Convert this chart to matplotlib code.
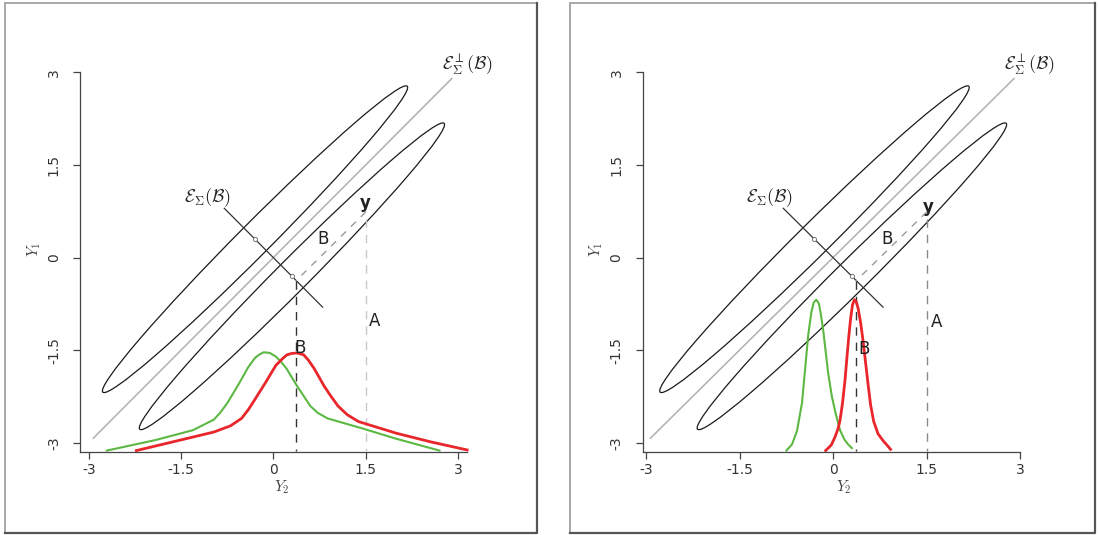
import numpy as np
import matplotlib
matplotlib.use("Agg")
import matplotlib.pyplot as plt
from matplotlib.patches import Ellipse, Rectangle
from matplotlib.lines import Line2D

plt.rcParams['mathtext.fontset'] = 'cm'

# ---- data ----
ticks = [-3, -1.5, 0, 1.5, 3]
tick_labels = ['-3', '-1.5', '0', '1.5', '3']

# ellipses (same in both panels): centre x, centre y, major length, minor length, angle
ell_cx = [-0.30, 0.30]
ell_cy = [0.30, -0.30]
ell_major = [7.0, 7.0]
ell_minor = [0.52, 0.52]
ell_angle = [45, 45]

# orthogonal complement line (gray) and envelope line (black)
perp_x = [-2.93, 2.90]
perp_y = [-2.92, 2.90]
env_x = [-0.80, 0.80]
env_y = [0.80, -0.80]

# observation y, its projection, and the two dashed drops
obs_x, obs_y = 1.5, 0.74
proj_x, proj_y = 0.36, -0.38
drop_bottom = -3.13
a_top = 0.62

# left panel densities (standard analysis)
green_l_x = [-2.71, -1.92, -1.31, -0.97, -0.86, -0.75, -0.58, -0.41, -0.30, -0.22,
             -0.16, -0.06, 0.04, 0.12, 0.21, 0.38, 0.60, 0.72, 0.88, 1.44, 2.00, 2.70]
green_l_y = [-3.12, -2.95, -2.79, -2.62, -2.50, -2.35, -2.07, -1.77, -1.62, -1.56,
             -1.53, -1.54, -1.60, -1.68, -1.79, -2.07, -2.40, -2.51, -2.60, -2.76,
             -2.93, -3.12]
red_l_x = [-2.23, -1.64, -0.97, -0.70, -0.52, -0.41, -0.30, -0.13, 0.04, 0.15,
           0.22, 0.29, 0.38, 0.49, 0.57, 0.66, 0.82, 0.92, 1.05, 1.20, 1.38, 2.00,
           2.56, 3.15]
red_l_y = [-3.12, -2.98, -2.82, -2.72, -2.60, -2.46, -2.29, -2.02, -1.74, -1.63,
           -1.57, -1.55, -1.54, -1.57, -1.66, -1.79, -2.07, -2.22, -2.40, -2.54,
           -2.65, -2.84, -2.98, -3.11]

# right panel densities (envelope analysis)
green_r_x = [-0.75, -0.66, -0.58, -0.50, -0.45, -0.40, -0.35, -0.31, -0.27, -0.23,
             -0.20, -0.16, -0.12, -0.08, -0.02, 0.04, 0.11, 0.18, 0.24, 0.30]
green_r_y = [-3.12, -3.02, -2.80, -2.35, -1.80, -1.25, -0.88, -0.72, -0.68, -0.74,
             -0.90, -1.17, -1.52, -1.87, -2.25, -2.52, -2.79, -2.94, -3.02, -3.08]
red_r_x = [-0.12, -0.03, 0.03, 0.08, 0.11, 0.15, 0.19, 0.22, 0.25, 0.28, 0.31,
           0.34, 0.37, 0.40, 0.44, 0.48, 0.52, 0.56, 0.60, 0.65, 0.72, 0.80,
           0.87, 0.92]
red_r_y = [-3.12, -3.03, -2.90, -2.76, -2.63, -2.35, -1.98, -1.62, -1.28, -0.98,
           -0.76, -0.68, -0.71, -0.82, -1.05, -1.35, -1.70, -2.05, -2.38, -2.65,
           -2.85, -2.96, -3.04, -3.10]

panels = [
    dict(pos=[0.0732, 0.1555, 0.3663, 0.7555], xlim=(-3.14, 3.40), xb=(-3.14, 3.14),
         gx=green_l_x, gy=green_l_y, rx=red_l_x, ry=red_l_y, a_col='#c8c8c8',
         env_lab=(-1.08, 0.97), perp_lab=(3.15, 3.12), y_lab=(1.50, 0.88),
         b_lab=(0.80, 0.30), a_lab=(1.64, -1.02), b2_lab=(0.43, -1.46)),
    dict(pos=[0.5856, 0.1555, 0.3663, 0.7555], xlim=(-3.05, 3.40), xb=(-3.05, 3.0),
         gx=green_r_x, gy=green_r_y, rx=red_r_x, ry=red_r_y, a_col='#8a8a8a',
         env_lab=(-1.02, 0.97), perp_lab=(3.15, 3.12), y_lab=(1.53, 0.82),
         b_lab=(0.86, 0.31), a_lab=(1.66, -1.04), b2_lab=(0.49, -1.47)),
]

fig = plt.figure(figsize=(10.98, 5.35), dpi=100)

# panel frames
for x0, w in [(0.0046, 0.4845), (0.5191, 0.4781)]:
    fig.patches.append(Rectangle((x0, 0.0037), w, 0.9907, transform=fig.transFigure,
                                 fill=False, edgecolor='#a8a8a8', linewidth=1.4))
    fig.add_artist(Line2D([x0, x0 + w, x0 + w], [0.0037, 0.0037, 0.9944],
                          transform=fig.transFigure, color='#555555', linewidth=1.6))

for p in panels:
    ax = fig.add_axes(p['pos'])
    ax.set_xlim(*p['xlim'])
    ax.set_ylim(-3.14, 3.40)
    for s in ['top', 'right']:
        ax.spines[s].set_visible(False)
    ax.spines['bottom'].set_bounds(*p['xb'])
    ax.spines['left'].set_bounds(-3.14, 3.0)
    for s in ['bottom', 'left']:
        ax.spines[s].set_color('#444444')
        ax.spines[s].set_linewidth(0.9)
    ax.set_xticks(ticks)
    ax.set_xticklabels(tick_labels)
    ax.set_yticks(ticks)
    ax.set_yticklabels(tick_labels, rotation=90, va='center')
    ax.tick_params(direction='out', length=5, width=0.9, color='#444444',
                   labelsize=10, labelcolor='#333333', pad=3)
    ax.tick_params(axis='y', pad=9)
    ax.set_xlabel('$Y_2$', fontsize=11, color='#444444', labelpad=1)
    ax.set_ylabel('$Y_1$', fontsize=11, color='#444444', labelpad=3)

    # ellipses
    for cx, cy, ma, mi, an in zip(ell_cx, ell_cy, ell_major, ell_minor, ell_angle):
        ax.add_patch(Ellipse((cx, cy), ma, mi, angle=an, fill=False,
                             edgecolor='#1a1a1a', linewidth=0.9))
    # lines
    ax.plot(perp_x, perp_y, color='#b0b0b0', linewidth=1.1)
    ax.plot(env_x, env_y, color='#333333', linewidth=0.9)
    ax.plot(ell_cx, ell_cy, 'o', ms=3, mfc='white', mec='#777777', mew=0.7)
    ax.plot([obs_x, proj_x], [obs_y, proj_y], color='#9a9a9a', linewidth=1,
            linestyle=(0, (5, 5)))
    ax.plot([proj_x, proj_x], [proj_y, drop_bottom], color='#333333', linewidth=1,
            linestyle=(0, (6, 5)))
    ax.plot([obs_x, obs_x], [a_top, drop_bottom], color=p['a_col'], linewidth=1,
            linestyle=(0, (6, 5)))

    # densities
    ax.plot(p['gx'], p['gy'], color='#5cb843', linewidth=1.5, clip_on=False,
            solid_joinstyle='round')
    ax.plot(p['rx'], p['ry'], color='#e8262b', linewidth=2.0, clip_on=False,
            solid_joinstyle='round')

    # labels
    ax.text(*p['env_lab'], r'$\mathcal{E}_{\mathbf{\Sigma}}(\mathcal{B})$', fontsize=13,
            ha='center', va='center', color='#222222')
    ax.text(*p['perp_lab'], r'$\mathcal{E}^{\perp}_{\mathbf{\Sigma}}(\mathcal{B})$',
            fontsize=13, ha='center', va='center', color='#222222', clip_on=False)
    ax.text(*p['y_lab'], 'y', fontsize=12, fontweight='bold', ha='center', va='center',
            color='#222222')
    ax.text(*p['b_lab'], 'B', fontsize=12, ha='center', va='center', color='#222222')
    ax.text(*p['a_lab'], 'A', fontsize=12, ha='center', va='center', color='#222222')
    ax.text(*p['b2_lab'], 'B', fontsize=12, ha='center', va='center', color='#222222')

fig.savefig('out.png', dpi=100)
